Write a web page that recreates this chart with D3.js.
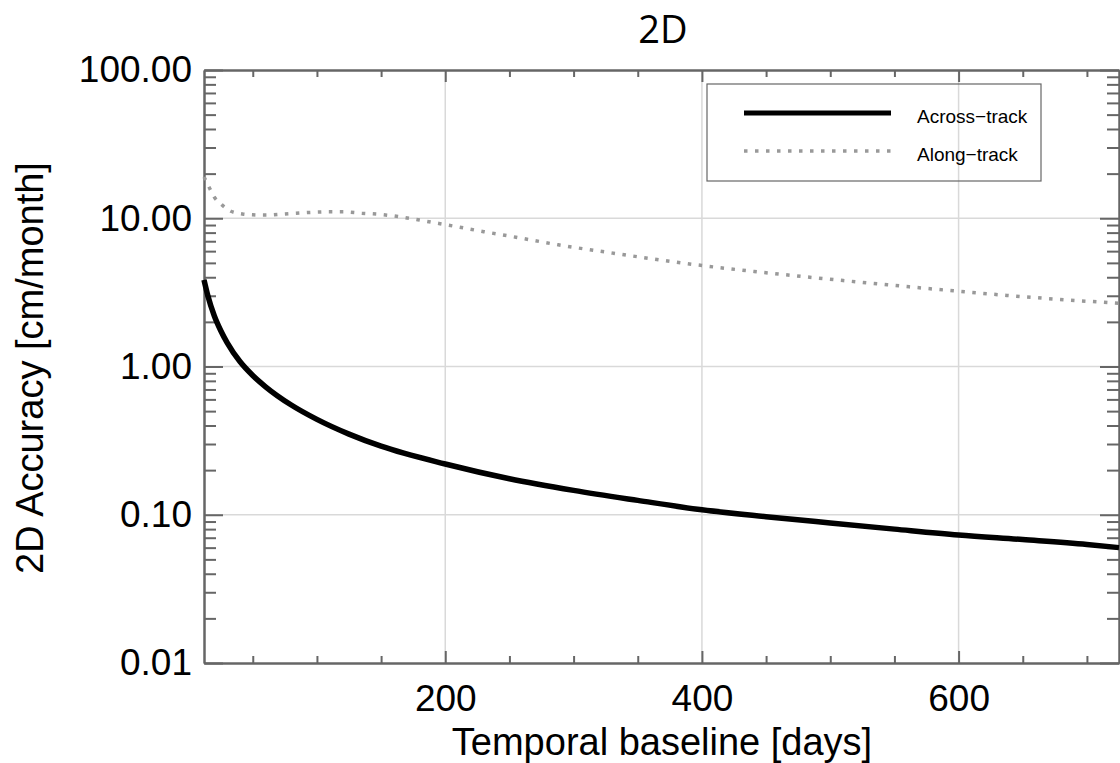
<!DOCTYPE html>
<html>
<head>
<meta charset="utf-8">
<script src="https://cdn.jsdelivr.net/npm/d3@7"></script>
<style>
  body { margin: 0; background: #fff; }
  svg { display: block; }
  text { font-family: "Liberation Sans", Arial, sans-serif; fill: #000; }
</style>
</head>
<body>
<svg id="chart" width="1120" height="763"></svg>
<script>
// values
const acrossDays = [12, 15, 20, 25, 30, 40, 50, 60, 80, 100, 125, 150, 200, 250, 300, 350, 400, 450, 500, 550, 600, 650, 700, 725];
const acrossVals = [3.84, 3.0, 2.2, 1.75, 1.45, 1.08, 0.87, 0.73, 0.55, 0.44, 0.35, 0.29, 0.22, 0.175, 0.146, 0.125, 0.108, 0.097, 0.088, 0.080, 0.073, 0.068, 0.063, 0.060];

const alongDays = [12, 16, 20, 26, 33, 42, 50, 60, 75, 90, 110, 120, 135, 150, 165, 180, 195, 210, 230, 255, 288, 331, 400, 477, 537, 596, 656, 725];
const alongVals = [19.0, 16.2, 13.9, 12.3, 11.15, 10.7, 10.55, 10.5, 10.7, 10.9, 11.05, 11.05, 10.82, 10.6, 10.22, 9.72, 9.22, 8.74, 8.12, 7.45, 6.62, 5.81, 4.80, 4.06, 3.61, 3.24, 2.93, 2.67];

const xMajor = [200, 400, 600];
const xMinor = [50, 100, 150, 250, 300, 350, 450, 500, 550, 650, 700];
const yMajor = [0.01, 0.1, 1, 10, 100];
const yMinor = [];
[0.01, 0.1, 1, 10].forEach(d => { for (let k = 2; k <= 9; k++) yMinor.push(+(d * k).toPrecision(3)); });

const seriesNames = ["Across\u2212track", "Along\u2212track"];

const pLeft = 204, pRight = 1119, pTop = 70, pBottom = 663;

const svg = d3.select("#chart");

const x = d3.scaleLinear().domain([12, 725]).range([pLeft, pRight]);
const y = d3.scaleLog().domain([0.01, 100]).range([pBottom, pTop]);

// grid
const grid = svg.append("g").attr("stroke", "#d9d9d9").attr("stroke-width", 1.5);
grid.selectAll(".gx").data(xMajor).enter().append("line")
  .attr("x1", d => x(d)).attr("x2", d => x(d)).attr("y1", pTop).attr("y2", pBottom);
grid.selectAll(".gy").data(yMajor.slice(1, -1)).enter().append("line")
  .attr("y1", d => y(d)).attr("y2", d => y(d)).attr("x1", pLeft).attr("x2", pRight);

// axes
function styleAxis(g) {
  g.selectAll("path, line").attr("stroke", "#666").attr("stroke-width", 2);
  g.selectAll("text").style("font-size", "37px").attr("fill", "#000");
}

svg.append("g").attr("transform", `translate(${pLeft},0)`)
  .call(d3.axisLeft(y).tickValues(yMajor).tickFormat(d3.format(".2f")).tickSize(-19).tickSizeOuter(0).tickPadding(12))
  .call(styleAxis);
svg.append("g").attr("transform", `translate(${pLeft},0)`)
  .call(d3.axisLeft(y).tickValues(yMinor).tickFormat("").tickSize(-12).tickSizeOuter(0))
  .call(styleAxis);
svg.append("g").attr("transform", `translate(${pRight},0)`)
  .call(d3.axisRight(y).tickValues(yMajor).tickFormat("").tickSize(-19).tickSizeOuter(0))
  .call(styleAxis);
svg.append("g").attr("transform", `translate(${pRight},0)`)
  .call(d3.axisRight(y).tickValues(yMinor).tickFormat("").tickSize(-12).tickSizeOuter(0))
  .call(styleAxis);

svg.append("g").attr("transform", `translate(0,${pBottom})`)
  .call(d3.axisBottom(x).tickValues(xMajor).tickFormat(d3.format("d")).tickSize(-12).tickSizeOuter(0).tickPadding(22))
  .call(styleAxis);
svg.append("g").attr("transform", `translate(0,${pBottom})`)
  .call(d3.axisBottom(x).tickValues(xMinor).tickFormat("").tickSize(-7).tickSizeOuter(0))
  .call(styleAxis);
svg.append("g").attr("transform", `translate(0,${pTop})`)
  .call(d3.axisTop(x).tickValues(xMajor).tickFormat("").tickSize(-12).tickSizeOuter(0))
  .call(styleAxis);
svg.append("g").attr("transform", `translate(0,${pTop})`)
  .call(d3.axisTop(x).tickValues(xMinor).tickFormat("").tickSize(-7).tickSizeOuter(0))
  .call(styleAxis);

// lines
const line = d3.line().x(d => x(d[0])).y(d => y(d[1])).curve(d3.curveMonotoneX);

svg.append("path")
  .datum(alongDays.map((d, i) => [d, alongVals[i]]))
  .attr("fill", "none").attr("stroke", "#999").attr("stroke-width", 3.5)
  .attr("stroke-dasharray", "3.5,7.5")
  .attr("d", line);

svg.append("path")
  .datum(acrossDays.map((d, i) => [d, acrossVals[i]]))
  .attr("fill", "none").attr("stroke", "#000").attr("stroke-width", 5.5)
  .attr("d", line);

// legend
const lg = svg.append("g");
lg.append("rect").attr("x", 707).attr("y", 84).attr("width", 334).attr("height", 97)
  .attr("fill", "none").attr("stroke", "#666").attr("stroke-width", 1.2);
lg.append("line").attr("x1", 744).attr("x2", 891).attr("y1", 113).attr("y2", 113)
  .attr("stroke", "#000").attr("stroke-width", 5);
lg.append("line").attr("x1", 744).attr("x2", 891).attr("y1", 151).attr("y2", 151)
  .attr("stroke", "#999").attr("stroke-width", 3.5).attr("stroke-dasharray", "3.5,7.5");
lg.append("text").attr("x", 917).attr("y", 123).style("font-size", "19px").text(seriesNames[0]);
lg.append("text").attr("x", 917).attr("y", 161).style("font-size", "19px").text(seriesNames[1]);

// titles
svg.append("text").attr("x", 663).attr("y", 43).attr("text-anchor", "middle")
  .style("font-family", "'Open Sans', sans-serif").style("font-size", "38px").text("2D");

svg.append("text").attr("x", 662).attr("y", 755).attr("text-anchor", "middle")
  .style("font-size", "38px").text("Temporal baseline [days]");

svg.append("text").attr("transform", `translate(43,368) rotate(-90)`).attr("text-anchor", "middle")
  .style("font-size", "38px").text("2D Accuracy [cm/month]");
</script>
</body>
</html>
